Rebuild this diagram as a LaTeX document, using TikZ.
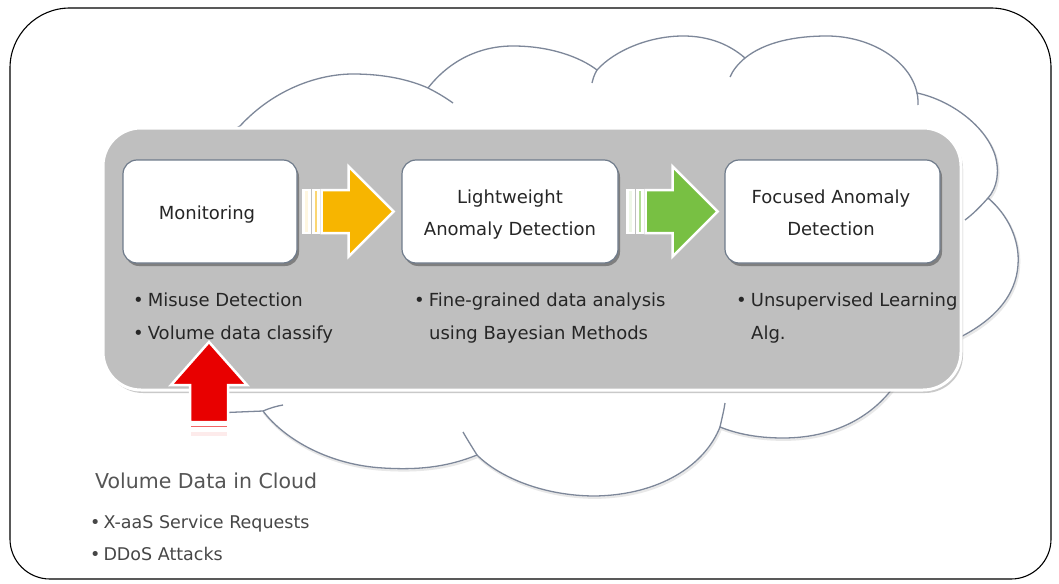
\documentclass[tikz,border=0pt]{standalone}
\usepackage{fontspec}
\setmainfont{DejaVu Sans}
\usetikzlibrary{calc,shadows}
\definecolor{cloudc}{HTML}{7D8799}
\definecolor{panelc}{HTML}{BFBFBF}
\definecolor{boxedge}{HTML}{6F7B8B}
\definecolor{txt}{HTML}{262626}
\definecolor{txtb}{HTML}{555555}
\definecolor{yel}{HTML}{F7B500}
\definecolor{grn}{HTML}{78C043}
\definecolor{redc}{HTML}{E80000}
\tikzset{
  cloudline/.style={draw=cloudc, line width=1.3pt},
  panel/.style={rectangle, rounded corners=38pt, fill=panelc, draw=white, line width=3pt,
    minimum width=858pt, minimum height=262pt, inner sep=0pt,
    drop shadow={shadow xshift=2pt, shadow yshift=-3pt, opacity=0.35, fill=black!60}},
  wbox/.style={rectangle, rounded corners=14pt, fill=white, draw=boxedge, line width=1.2pt,
    minimum height=103pt, inner sep=0pt,
    drop shadow={shadow xshift=2pt, shadow yshift=-3pt, opacity=0.55, fill=black!70}},
  lbl/.style={font=\fontsize{18}{22}\selectfont, text=txt, inner sep=0pt},
  lblbig/.style={font=\fontsize{20.5}{24}\selectfont, text=txtb, inner sep=0pt},
  lblsm/.style={font=\fontsize{17.5}{22}\selectfont, text=txt!85, inner sep=0pt},
  pics/rarr/.style={code={
    \path[draw=white, line width=2.5pt, fill=#1!12] (0,-21.5) rectangle (6,21.5);
    \path[draw=white, line width=2.5pt, fill=#1!55] (10,-21.5) rectangle (15,21.5);
    \path[draw=white, line width=2.5pt, fill=#1] (18,-21.5) -- (45,-21.5) -- (45,-45)
      -- (90,0) -- (45,45) -- (45,21.5) -- (18,21.5) -- cycle;
  }},
  pics/uarr/.style={code={
    \path[draw=white, line width=2.5pt, fill=#1!8] (-19,0) rectangle (19,-6);
    \path[draw=white, line width=2pt, fill=#1!60] (-19,-9.5) rectangle (19,-12.5);
    \path[draw=white, line width=2.5pt, fill=#1] (-19,-15) -- (-19,-52) -- (-38,-52)
      -- (0,-95) -- (38,-52) -- (19,-52) -- (19,-15) -- cycle;
  }}
}
\begin{document}
\begin{tikzpicture}[x=1pt, y=-1pt]
\useasboundingbox (0,0) rectangle (1059,583);
\fill[white] (0,0) rectangle (1059,583);

% outer frame
\draw[black, line width=1.1pt] (10,300) [rounded corners=60pt] |- (530,8) -| (1051,300)
  [rounded corners=40pt] |- (530,579) -| (10,300);

% cloud shadow (soft)
\path[draw=black!9, line width=2.2pt, shift={(1,1.8)}] (917,93)
 .. controls (950,100) and (985,125) .. (995,155)
 .. controls (1000,172) and (997,188) .. (988,198)
 .. controls (1008,215) and (1020,240) .. (1018,265)
 .. controls (1016,295) and (995,322) .. (950,342)
 (895,385)
 .. controls (870,420) and (830,438) .. (783,438)
 .. controls (755,438) and (735,433) .. (720,427)
 .. controls (705,465) and (660,495) .. (595,496)
 .. controls (545,496) and (500,478) .. (477,455)
 .. controls (445,468) and (415,470) .. (383,468)
 .. controls (330,465) and (285,440) .. (263,411);
% cloud
\path[cloudline, fill=white] (240,126)
 .. controls (275,88) and (320,74) .. (353,74)
 .. controls (385,74) and (410,80) .. (428,88)
 .. controls (450,60) and (480,46) .. (513,46)
 .. controls (550,46) and (580,57) .. (597,70)
 .. controls (615,50) and (650,36) .. (683,36)
 .. controls (710,36) and (730,45) .. (745,58)
 .. controls (765,42) and (795,36) .. (827,36)
 .. controls (870,36) and (910,60) .. (917,93)
 .. controls (950,100) and (985,125) .. (995,155)
 .. controls (1000,172) and (997,188) .. (988,198)
 .. controls (1008,215) and (1020,240) .. (1018,265)
 .. controls (1016,295) and (995,322) .. (950,342)
 -- (895,385)
 .. controls (870,420) and (830,438) .. (783,438)
 .. controls (755,438) and (735,433) .. (720,427)
 .. controls (705,465) and (660,495) .. (595,496)
 .. controls (545,496) and (500,478) .. (477,455)
 .. controls (445,468) and (415,470) .. (383,468)
 .. controls (330,465) and (285,440) .. (263,411)
 -- (215,413) -- (215,140) -- cycle;
% lobe tails
\draw[cloudline] (428,88) .. controls (438,93) and (446,98) .. (453,103);
\draw[cloudline] (597,70) .. controls (594,75) and (593,79) .. (592,83);
\draw[cloudline] (745,58) .. controls (738,64) and (733,70) .. (730,77);
\draw[cloudline] (917,93) .. controls (918,97) and (918,101) .. (918,105);
\draw[cloudline] (988,198) .. controls (980,207) and (973,214) .. (965,220);
\draw[cloudline] (720,427) .. controls (722,418) and (724,410) .. (725,403);
\draw[cloudline] (477,455) .. controls (472,447) and (467,439) .. (463,432);
\draw[cloudline] (263,411) .. controls (270,408) and (277,406) .. (283,405);

% grey panel
\node[panel] (panel) at (532,259) {};

% process boxes
\node[wbox, minimum width=174pt] (mon) at (210,211.5) {};
\node[wbox, minimum width=216pt] (lw) at (510,211.5) {};
\node[wbox, minimum width=215pt] (fad) at (832.5,211.5) {};

\node[lbl, anchor=base] (monT) at (207,219) {Monitoring};
\node[lbl, anchor=base] (lwT1) at (510,203) {Lightweight};
\node[lbl, anchor=base] (lwT2) at (510,235) {Anomaly Detection};
\node[lbl, anchor=base] (faT1) at (831,203) {Focused Anomaly};
\node[lbl, anchor=base] (faT2) at (831,235) {Detection};

% block arrows between boxes
\pic at ($(mon.east)+(6,0)$) {rarr=yel};
\pic at ($(lw.east)+(9,0)$) {rarr=grn};

% bullet texts
\node[lbl, anchor=base west] (b1) at (133,306) {•\hspace{4pt}Misuse Detection};
\node[lbl, anchor=base west] (b2) at (133,339) {•\hspace{4pt}Volume data classify};
\node[lbl, anchor=base west] (b3) at (414,306) {•\hspace{4pt}Fine-grained data analysis};
\node[lbl, anchor=base west] (b4) at (429,339) {using Bayesian Methods};
\node[lbl, anchor=base west] (b5) at (736,306) {•\hspace{4pt}Unsupervised Learning};
\node[lbl, anchor=base west] (b6) at (751,339) {Alg.};

% input
\node[lblbig, anchor=base west] (vd) at (95,488) {Volume Data in Cloud};
\node[lblsm, anchor=base west] (v1) at (90,528) {•\hspace{3pt}X-aaS Service Requests};
\node[lblsm, anchor=base west] (v2) at (90,560) {•\hspace{3pt}DDoS Attacks};

\coordinate (rb) at (209,437);
\pic at (rb) {uarr=redc};
\end{tikzpicture}
\end{document}
